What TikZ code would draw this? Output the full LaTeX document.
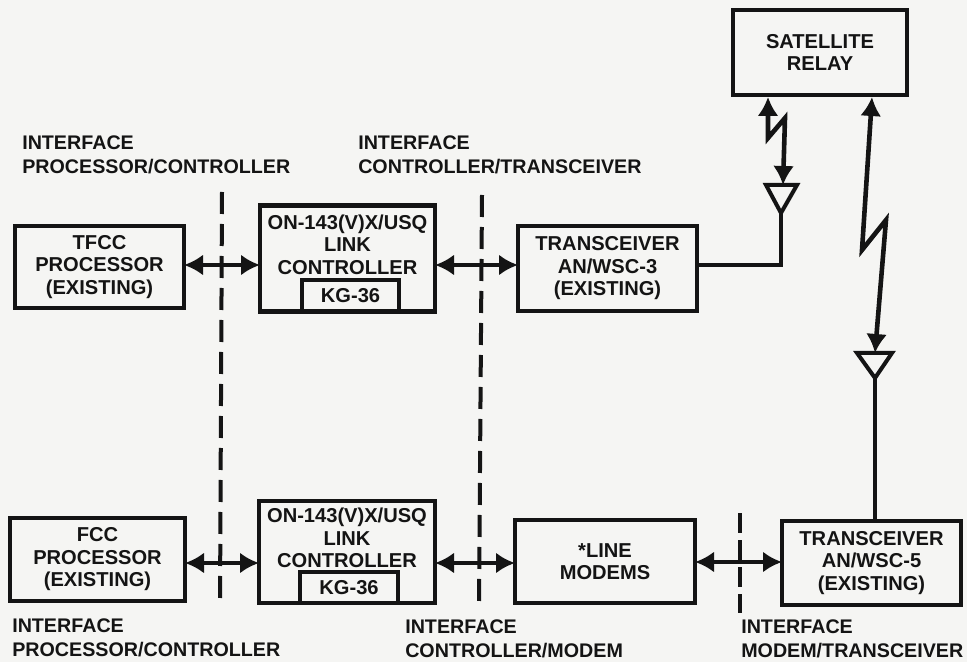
\documentclass[tikz,border=0pt]{standalone}
\usepackage{fontspec}
\setmainfont{Liberation Sans}
\usetikzlibrary{arrows.meta}
\definecolor{scanpaper}{HTML}{F5F5F3}
\definecolor{scanink}{HTML}{141414}
\def\px{0.025cm}
\tikzset{
    blockbox/.style 2 args={draw=scanink, line width=4.4*\px, align=center, inner sep=0pt, outer sep=0pt,
        text=scanink, font=\fontsize{14.3}{16}\selectfont\bfseries,
        minimum width=#1*\px, minimum height=#2*\px},
    ifacelabel/.style={anchor=west, align=left, inner sep=0pt, text=scanink,
        font=\fontsize{14}{17}\selectfont\bfseries},
    biglink/.style={draw=scanink, line width=4.6*\px, {Latex[length=19*\px,width=21*\px]}-{Latex[length=19*\px,width=21*\px]}},
    boundary/.style={draw=scanink, line width=4*\px, dash pattern=on 22*\px off 10*\px},
    feedline/.style={draw=scanink, line width=4*\px}
}
\begin{document}
\begin{tikzpicture}[x=0.025cm, y=-0.025cm]
    \fill[scanpaper] (0,0) rectangle (967,662);
    % Boundaries
    \foreach \xa/\xb/\ya/\yb in {222/220/192/607, 482/479/195/607}
        \draw[boundary] (\xa,\ya) -- (\xb,\yb);
    \draw[boundary, dash pattern=on 20*\px off 7*\px] (740,513) -- (740,613);
    % Upper row
    \node[blockbox={169}{82}] (tfcc) at (99.5,267) {TFCC\\PROCESSOR\\(EXISTING)};
    \node[blockbox={175}{106}] (linkA) at (347.5,258.5) {ON-143(V)X/USQ\\LINK\\CONTROLLER\\[4pt]\mbox{}};
    \node[blockbox={97}{31}] (kgA) at (350.5,295.5) {KG-36};
    \node[blockbox={179}{85}] (xcvrA) at (607.5,268.5) {TRANSCEIVER\\AN/WSC-3\\(EXISTING)};
    \node[blockbox={174}{85}] (relay) at (820,52.5) {SATELLITE\\RELAY};
    % Lower row
    \node[blockbox={175}{83}] (fcc) at (97.5,559.5) {FCC\\PROCESSOR\\(EXISTING)};
    \node[blockbox={176}{102}] (linkB) at (347,552) {ON-143(V)X/USQ\\LINK\\CONTROLLER\\[4pt]\mbox{}};
    \node[blockbox={98}{31}] (kgB) at (349,587.5) {KG-36};
    \node[blockbox={180}{83}] (modems) at (605,561.5) {*LINE\\MODEMS};
    \node[blockbox={179}{84}] (xcvrB) at (871.5,563) {TRANSCEIVER\\AN/WSC-5\\(EXISTING)};
    % Links between blocks
    \draw[biglink] (tfcc.east |- 0,265) -- (linkA.west |- 0,265);
    \draw[biglink] (linkA.east |- 0,265) -- (xcvrA.west |- 0,265);
    \draw[biglink] (fcc.east |- 0,563) -- (linkB.west |- 0,563);
    \draw[biglink] (linkB.east |- 0,563) -- (modems.west |- 0,563);
    \draw[biglink] (modems.east |- 0,562) -- (xcvrB.west |- 0,562);
    % Antennas
    \coordinate (dishA) at (781,213);
    \coordinate (dishB) at (875,378);
    \draw[feedline, line join=miter] (766,185) -- (797,185) -- (dishA) -- cycle;
    \draw[feedline, line join=miter] (857,353) -- (892,353) -- (dishB) -- cycle;
    \draw[feedline] (dishA) -- (781,265) -- (xcvrA.east |- 0,265);
    \draw[feedline] (dishB) -- (dishB |- xcvrB.north);
    % Radio paths
    \draw[biglink, line join=miter] (768,97) -- (768,138) -- (785,118) -- (783,185);
    \draw[biglink, line join=miter] (872,97) -- (862,250) -- (886,220) -- (875,353);
    % Interface labels
    \node[ifacelabel] (ifaceA) at (22,155) {INTERFACE\\PROCESSOR/CONTROLLER};
    \node[ifacelabel] (ifaceB) at (358,155) {INTERFACE\\CONTROLLER/TRANSCEIVER};
    \node[ifacelabel] (ifaceC) at (12,638) {INTERFACE\\PROCESSOR/CONTROLLER};
    \node[ifacelabel] (ifaceD) at (405,639) {INTERFACE\\CONTROLLER/MODEM};
    \node[ifacelabel] (ifaceE) at (741,639) {INTERFACE\\MODEM/TRANSCEIVER};
\end{tikzpicture}
\end{document}
